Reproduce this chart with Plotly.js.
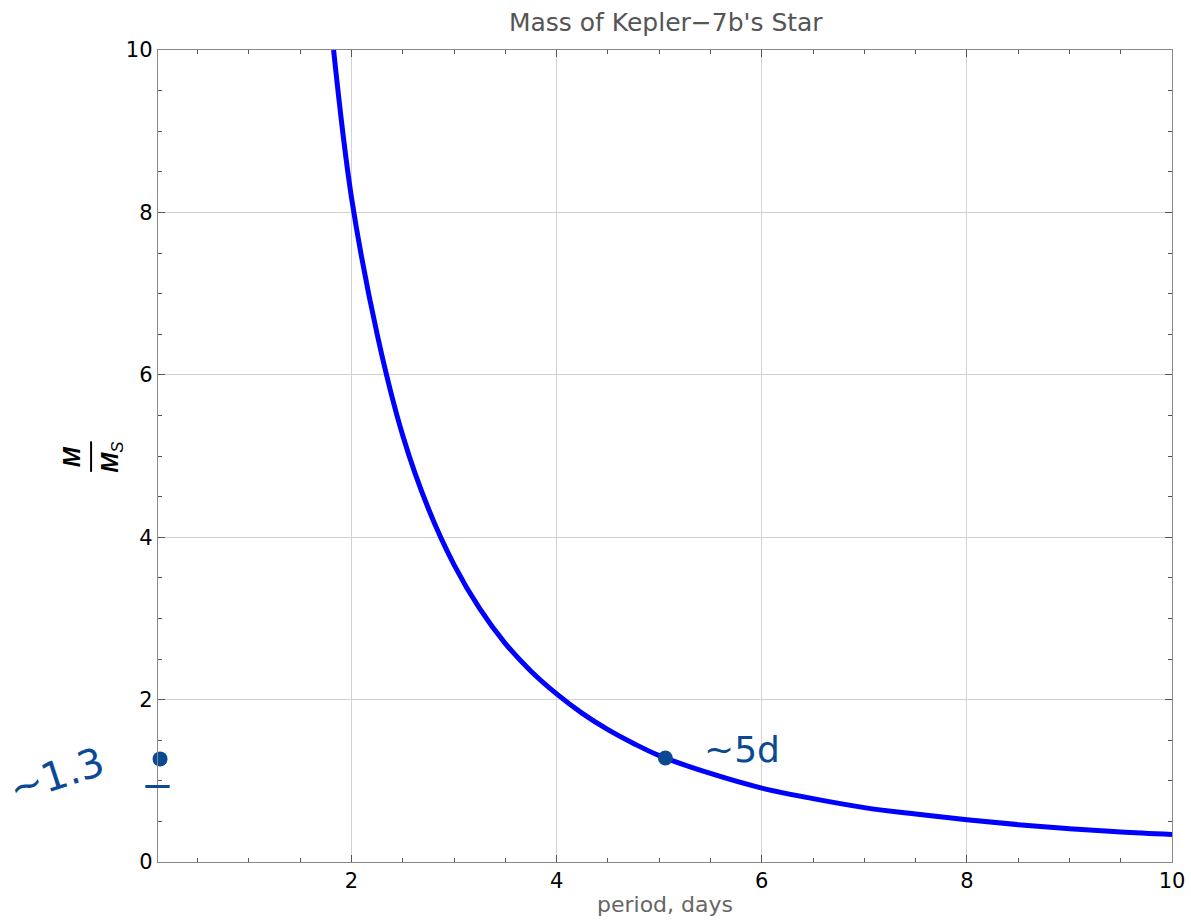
<!DOCTYPE html>
<html>
<head>
<meta charset="utf-8">
<script src="https://cdn.plot.ly/plotly-3.0.1.min.js"></script>
<style>html,body{margin:0;padding:0;background:#fff;}#chart{width:1191px;height:920px;}</style>
</head>
<body>
<div id="chart"></div>
<script>
// Curve: period (days) vs M/Ms
const periodDays = [1.825, 2.0, 2.25, 2.5, 2.75, 3.0, 3.25, 3.5, 3.75, 4.0, 4.25, 4.5, 4.75, 5.0, 5.5, 6.0, 6.5, 7.0, 7.5, 8.0, 8.5, 9.0, 9.5, 10.0];
const massRatio  = [10.0, 8.18, 6.5, 5.25, 4.35, 3.66, 3.12, 2.69, 2.35, 2.07, 1.83, 1.63, 1.46, 1.31, 1.09, 0.91, 0.78, 0.67, 0.59, 0.52, 0.46, 0.41, 0.37, 0.34];
// Hand-drawn ink dots
const inkX = [0.133, 5.06];
const inkY = [1.27, 1.28];
const inkLabels = ["~1.3", "~5d"];
const xTicks = [2, 4, 6, 8, 10];
const yTicks = [0, 2, 4, 6, 8, 10];

const ink = '#0b4a93';
const FONT = 'DejaVu Sans, sans-serif';
const tickFont = {family: FONT, size: 21, color: '#000'};

const traces = [
  {x: periodDays, y: massRatio, mode: 'lines', line: {color: '#0000ff', width: 5, shape: 'spline', smoothing: 1}, hoverinfo: 'skip'},
  {x: inkX, y: inkY, mode: 'markers', marker: {color: ink, size: 15, symbol: 'circle'}, cliponaxis: false, hoverinfo: 'skip'}
];

const axisCommon = {
  showline: true, linecolor: '#8a8a8a', linewidth: 1.2, mirror: 'ticks',
  ticks: 'inside', ticklen: 7, tickwidth: 1, tickcolor: '#555',
  showgrid: true, gridcolor: '#d2d2d2', gridwidth: 1, zeroline: false,
  tickfont: tickFont,
  minor: {dtick: 0.5, ticks: 'inside', ticklen: 4, tickcolor: '#555', tickwidth: 1, showgrid: false}
};

const layout = {
  width: 1191, height: 920,
  margin: {l: 158, r: 19, t: 50, b: 58},
  paper_bgcolor: '#fff', plot_bgcolor: '#fff',
  showlegend: false,
  title: {text: "Mass of Kepler\u22127b's Star", font: {family: FONT, size: 25, color: '#555'}, x: 0.559, xanchor: 'center', y: 0.976, yanchor: 'middle'},
  xaxis: Object.assign({}, axisCommon, {range: [0.113, 10], tickvals: xTicks, ticktext: xTicks.map(String),
    title: {text: 'period, days', font: {family: FONT, size: 22, color: '#666'}, standoff: 4}}),
  yaxis: Object.assign({}, axisCommon, {range: [0, 10], tickvals: yTicks, ticktext: yTicks.map(String)}),
  shapes: [
    {type: 'line', xref: 'paper', yref: 'paper', x0: -0.066, x1: -0.066, y0: 0.4805, y1: 0.518, line: {color: '#000', width: 2}},
    {type: 'line', xref: 'paper', yref: 'paper', x0: -0.0125, x1: 0.0115, y0: 0.093, y1: 0.093, line: {color: ink, width: 3}}
  ],
  annotations: [
    {xref: 'paper', yref: 'paper', x: -0.085, y: 0.4995, xanchor: 'center', yanchor: 'middle', text: '<b><i>M</i></b>', showarrow: false, textangle: -90, font: {family: 'Liberation Sans, Arial, sans-serif', size: 24, color: '#000'}},
    {xref: 'paper', yref: 'paper', x: -0.046, y: 0.4995, xanchor: 'center', yanchor: 'middle', text: '<b><i>M</i></b><sub><i>S</i></sub>', showarrow: false, textangle: -90, font: {family: 'Liberation Sans, Arial, sans-serif', size: 24, color: '#000'}},
    {xref: 'paper', yref: 'paper', x: -0.1, y: 0.107, xanchor: 'center', yanchor: 'middle', text: inkLabels[0], showarrow: false, textangle: -18, font: {family: FONT, size: 40, color: ink}},
    {xref: 'paper', yref: 'paper', x: 0.576, y: 0.138, xanchor: 'center', yanchor: 'middle', text: inkLabels[1], showarrow: false, font: {family: FONT, size: 36, color: ink}}
  ]
};

Plotly.newPlot('chart', traces, layout, {displayModeBar: false, staticPlot: true});
</script>
</body>
</html>
